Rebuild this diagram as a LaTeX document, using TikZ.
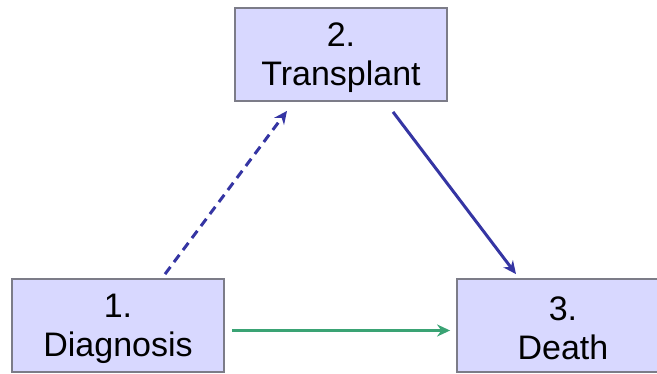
\documentclass[tikz,border=0pt]{standalone}
\usepackage{fontspec}
\setmainfont{Liberation Sans}
\usetikzlibrary{arrows.meta}
\definecolor{boxfill}{HTML}{D8D8FF}
\definecolor{boxline}{HTML}{7C7C88}
\definecolor{arrblue}{HTML}{3535A3}
\definecolor{arrgreen}{HTML}{3AA374}
\tikzset{
  stbox/.style={draw=boxline, line width=1.8pt, fill=boxfill, minimum width=212pt, minimum height=93pt,
    inner sep=0pt},
  stlabel/.style={inner sep=0pt, align=center, font=\fontsize{34}{39}\selectfont},
  bluearr/.style={draw=arrblue, line width=3pt, -{Stealth[length=13pt,width=12pt]}},
  greenarr/.style={draw=arrgreen, line width=3pt, -{Stealth[length=13pt,width=12pt]}},
}
\begin{document}
\begin{tikzpicture}[x=1pt,y=-1pt]
\useasboundingbox (0,0) rectangle (657,373);
\node[stbox] (d) at (118,325.5) {};
\node[stbox] (t) at (341,54.5) {};
\node[stbox] (x) at (563,325.5) {};
\node[stlabel] (dl) at ([yshift=-3pt]d.center) {1.\\Diagnosis};
\node[stlabel] (tl) at ([yshift=-3pt]t.center) {2.\\Transplant};
\node[stlabel] (xl) at ([yshift=-3pt]x.center) {3.\\Death};
\draw[bluearr, dash pattern=on 9pt off 6pt] ([xshift=47pt,yshift=4pt]d.north) -- ([xshift=-54pt,yshift=-9pt]t.south);
\draw[bluearr] ([xshift=52pt,yshift=-10pt]t.south) -- ([xshift=-47pt,yshift=4pt]x.north);
\draw[greenarr] ([xshift=7pt,yshift=-5pt]d.east) -- ([xshift=-6pt,yshift=-5pt]x.west);
\end{tikzpicture}
\end{document}
